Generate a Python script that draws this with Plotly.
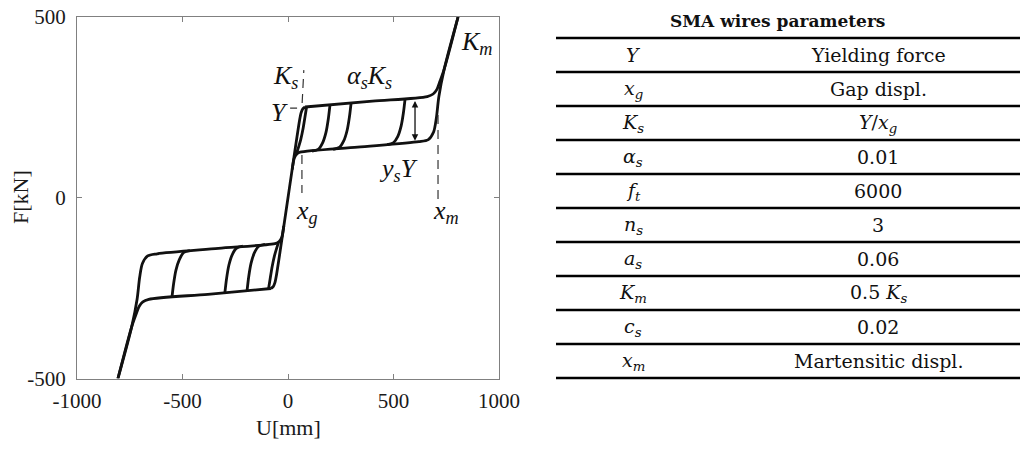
import plotly.graph_objects as go

# ---- SMA wire hysteresis: displacement U [mm] and force F [kN] along each branch ----
# central elastic branch (through the gap)
center_u = [-81, -70, -62, -55, 0, 55, 62, 70, 81]
center_f = [-251, -246, -235, -215, 0, 215, 235, 246, 251]

# positive loading plateau and martensitic branch
load_pos_u = [81, 400, 660, 688, 705, 720, 740, 806]
load_pos_f = [251, 267, 280, 287, 299, 322, 355, 500]
# unloading from the positive peak down to the lower plateau
unload_pos_u = [806, 740, 715, 703, 690, 665, 620, 330, 57, 42, 30, 20]
unload_pos_f = [500, 355, 280, 220, 182, 161, 155, 140, 126, 121, 110, 78]

# negative loading plateau and martensitic branch
load_neg_u = [-81, -380, -660, -688, -705, -720, -740, -806]
load_neg_f = [-251, -267, -281, -288, -300, -322, -355, -500]
# unloading from the negative peak up to the upper plateau
unload_neg_u = [-806, -740, -715, -703, -690, -665, -620, -330, -57, -42, -30, -20]
unload_neg_f = [-500, -355, -280, -220, -182, -161, -155, -140, -126, -121, -110, -78]

# inner reversal branches (partial cycles)
inner_pos_u = [[88, 80, 71, 60, 50, 40],
               [199, 191, 180, 164, 143, 114],
               [299, 291, 280, 264, 243, 214],
               [555, 547, 536, 520, 499, 470]]
inner_pos_f = [[251, 222, 190, 160, 140, 122],
               [257, 218, 181, 152, 134, 129],
               [262, 223, 186, 157, 139, 134],
               [274, 235, 198, 169, 152, 147]]
inner_neg_u = [[-92, -84, -75, -64, -54, -44],
               [-194, -186, -175, -159, -138, -109],
               [-299, -291, -280, -264, -243, -214],
               [-550, -542, -531, -515, -494, -465]]
inner_neg_f = [[-251, -222, -190, -160, -140, -122],
               [-257, -218, -181, -152, -134, -129],
               [-262, -223, -186, -157, -139, -134],
               [-276, -237, -200, -171, -151, -146]]

# axis ticks
x_ticks = [-1000, -500, 0, 500, 1000]
x_tick_text = ["-1000", "-500", "0", "500", "1000"]
y_ticks = [-500, 0, 500]
y_tick_text = ["-500", "0", "500"]

# parameter table
table_title = "SMA wires parameters"
param_symbols = ["<i>Y</i>", "<i>x</i><sub><i>g</i></sub>", "<i>K</i><sub><i>s</i></sub>",
                 "<i>α</i><sub><i>s</i></sub>", "<i>f</i><sub><i>t</i></sub>",
                 "<i>n</i><sub><i>s</i></sub>", "<i>a</i><sub><i>s</i></sub>",
                 "<i>K</i><sub><i>m</i></sub>", "<i>c</i><sub><i>s</i></sub>",
                 "<i>x</i><sub><i>m</i></sub>"]
param_values = ["Yielding force", "Gap displ.", "<i>Y</i>/<i>x</i><sub><i>g</i></sub>",
                "0.01", "6000", "3", "0.06", "0.5 <i>K</i><sub><i>s</i></sub>", "0.02",
                "Martensitic displ."]

W, H = 1020, 449


def fx(p):
    return p / W


def fy(p):
    return 1 - p / H


branches = [(center_u, center_f), (load_pos_u, load_pos_f), (unload_pos_u, unload_pos_f),
            (load_neg_u, load_neg_f), (unload_neg_u, unload_neg_f)]
branches += list(zip(inner_pos_u, inner_pos_f)) + list(zip(inner_neg_u, inner_neg_f))

xs, ys = [], []
for u, f in branches:
    xs += list(u) + [None]
    ys += list(f) + [None]

fig = go.Figure()
fig.add_trace(go.Scatter(x=xs, y=ys, mode="lines", connectgaps=False,
                         line=dict(color="#111111", width=2.8, shape="spline", smoothing=0.8),
                         hoverinfo="skip", showlegend=False))

axis_font = dict(family="Liberation Serif", size=21, color="#1a1a1a")
fig.update_xaxes(range=[-1000, 1000], domain=[fx(77), fx(499)], tickvals=x_ticks,
                 ticktext=x_tick_text, ticks="inside", ticklen=5, tickcolor="#808080",
                 showline=True, linecolor="#808080", linewidth=1, mirror="ticks",
                 showgrid=False, zeroline=False, tickfont=axis_font, automargin=False,
                 ticklabelstandoff=3)
fig.update_yaxes(range=[-500, 500], domain=[fy(378.5), fy(17)], tickvals=y_ticks,
                 ticktext=y_tick_text, ticks="inside", ticklen=5, tickcolor="#808080",
                 showline=True, linecolor="#808080", linewidth=1, mirror="ticks",
                 showgrid=False, zeroline=False, tickfont=axis_font, automargin=False,
                 ticklabelstandoff=6)

shapes = []
dash_style = dict(color="#333333", width=1.2, dash="9px,6px")
# K_s guide, Y marker, x_g and x_m guides
shapes.append(dict(type="line", xref="x", yref="y", x0=67, y0=262, x1=75, y1=353, line=dash_style))
shapes.append(dict(type="line", xref="x", yref="y", x0=10, y0=248, x1=43, y1=248,
                   line=dict(color="#333333", width=1.2)))
shapes.append(dict(type="line", xref="x", yref="y", x0=66, y0=118, x1=66, y1=13, line=dash_style))
shapes.append(dict(type="line", xref="x", yref="y", x0=711, y0=229, x1=711, y1=-6, line=dash_style))

# table rules
n_rows = len(param_symbols)
for k in range(n_rows + 1):
    yy = 38 + 34 * k
    shapes.append(dict(type="line", xref="paper", yref="paper", x0=fx(556), x1=fx(1020),
                       y0=fy(yy), y1=fy(yy), line=dict(color="#000000", width=2.5)))

annotations = []
lab_font = dict(family="Liberation Serif", size=26, color="#111111")


def lab(text, px, py):
    annotations.append(dict(text=text, xref="paper", yref="paper", x=fx(px), y=fy(py),
                            xanchor="center", yanchor="middle", showarrow=False, font=lab_font))


lab("<i>K</i><sub><i>s</i></sub>", 285, 77)
lab("<i>Y</i>", 279, 112)
lab("<i>α</i><sub><i>s</i></sub><i>K</i><sub><i>s</i></sub>", 369, 77)
lab("<i>K</i><sub><i>m</i></sub>", 476, 43)
lab("<i>y</i><sub><i>s</i></sub><i>Y</i>", 398, 170)
lab("<i>x</i><sub><i>m</i></sub>", 446, 212)
lab("<i>x</i><sub><i>g</i></sub>", 307, 212)

# double arrow marking y_s Y between plateaus
annotations.append(dict(x=602, y=158, ax=602, ay=272, xref="x", yref="y", axref="x", ayref="y",
                        text="", showarrow=True, arrowhead=2, arrowsize=1, arrowwidth=1.3,
                        arrowside="end+start", arrowcolor="#111111"))

# axis titles
title_font = dict(family="Liberation Serif", size=22, color="#1a1a1a")
annotations.append(dict(text="U[mm]", xref="paper", yref="paper", x=fx(288), y=fy(427),
                        xanchor="center", yanchor="middle", showarrow=False, font=title_font))
annotations.append(dict(text="F[kN]", xref="paper", yref="paper", x=fx(20), y=fy(197),
                        xanchor="center", yanchor="middle", showarrow=False, font=title_font,
                        textangle=-90))

# table text
head_font = dict(family="DejaVu Serif", size=17, color="#111111")
tab_font = dict(family="DejaVu Serif", size=19, color="#111111")
annotations.append(dict(text="<b>" + table_title + "</b>", xref="paper", yref="paper",
                        x=fx(777), y=fy(21), xanchor="center", yanchor="middle",
                        showarrow=False, font=head_font))
for i, (s, v) in enumerate(zip(param_symbols, param_values)):
    yc = 55 + 34 * i
    annotations.append(dict(text=s, xref="paper", yref="paper", x=fx(633), y=fy(yc),
                            xanchor="center", yanchor="middle", showarrow=False, font=tab_font))
    annotations.append(dict(text=v, xref="paper", yref="paper", x=fx(878), y=fy(yc),
                            xanchor="center", yanchor="middle", showarrow=False, font=tab_font))

fig.update_layout(width=W, height=H, margin=dict(l=0, r=0, t=0, b=0),
                  paper_bgcolor="white", plot_bgcolor="white",
                  shapes=shapes, annotations=annotations, showlegend=False)

fig.write_html("out.html")
